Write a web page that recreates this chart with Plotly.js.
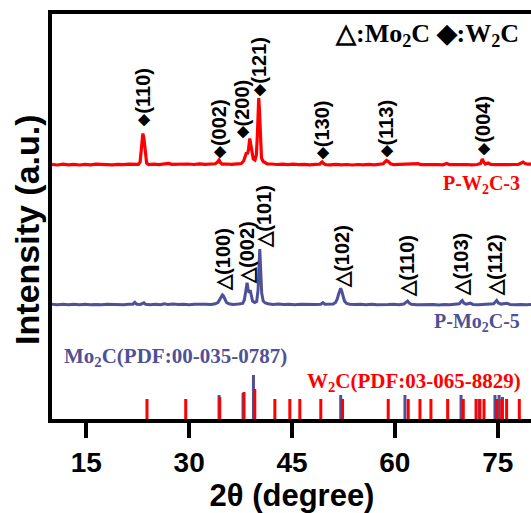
<!DOCTYPE html>
<html>
<head>
<meta charset="utf-8">
<script src="https://cdn.plot.ly/plotly-3.0.1.min.js"></script>
<style>
html, body { margin: 0; padding: 0; overflow: hidden; background: #fff; }
#chart { width: 540px; height: 513px; }
</style>
</head>
<body>
<div id="chart"></div>
<script>
// ---- Data ----
// P-W2C-3 pattern (2theta, intensity a.u.)
const redTheta = [10,10.8,11.6,12.4,13.2,14,14.8,15.6,16.4,17.2,18,18.8,19.6,20.4,21.2,22,22.6,22.85,23.0,23.1,23.25,23.4,23.5,23.62,23.8,24.1,24.8,25.6,26.4,27.0,27.5,28.3,29.1,29.9,30.7,31.5,32.3,33.1,33.8,34.15,34.36,34.55,34.8,35.5,36.2,37.0,37.6,37.95,38.15,38.36,38.5,38.65,38.84,39.0,39.15,39.35,39.6,39.8,39.95,40.05,40.15,40.25,40.38,40.55,40.8,41.05,41.4,42.0,42.8,43.6,44.4,45.2,46.0,46.8,47.6,48.4,49.05,49.25,49.4,49.6,49.9,50.6,51.4,52.2,53.0,53.8,54.6,55.4,56.2,57.0,57.8,58.3,58.55,58.8,59.05,59.4,59.8,60.6,61.4,62.2,63.0,63.4,63.8,64.6,65.4,66.2,67.0,67.55,68.0,68.8,69.6,70.4,71.2,72.0,72.5,72.75,72.95,73.2,73.6,74.0,74.8,75.6,76.4,77.2,78.0,78.45,78.7,79.0,79.4,80];
const redInt = [0.6,0,0.8,0.2,0.6,0,0.7,0.2,0.8,0.3,0.6,0.1,0.7,0.3,0.8,0.4,0.6,3,18,26,31.5,27,20,8,2,0.5,0.8,0.3,0.9,1.6,0.6,0.9,0.4,1.0,0.5,1.1,0.6,1.0,1.2,3,5,2.5,0.8,1.0,0.6,1.2,1.5,4,9,12.5,11,15,26.5,20,10,6,5,10,30,55,67,55,22,7,3.5,2.5,1.2,1.0,0.5,0.9,0.4,0.8,0.3,0.7,0.2,0.6,0.8,2.2,3,1.5,0.3,0.2,0.6,0.1,0.5,0,0.5,0.1,0.6,0.2,0.5,1.2,3,4.5,3.5,1.2,0.3,0.5,0.1,0.5,0.4,1.3,0.3,0.5,0.1,0.5,0.2,1.5,0.3,0.5,0.1,0.5,0.2,0.5,1.5,6,3,1,2,0.5,0.3,0.6,0.2,0.5,0.6,2,3,1.5,0.8,1];

// P-Mo2C-5 pattern
const blueTheta = [10,10.8,11.6,12.4,13.2,14,14.8,15.6,16.4,17.2,18,18.8,19.6,20.4,21.2,21.8,22.07,22.35,22.9,23.2,23.4,23.65,24.3,25.1,25.8,26.4,26.9,27.7,28.4,29.2,30.0,30.8,31.6,32.4,33.2,33.8,34.2,34.5,34.7,34.85,35.0,35.2,35.45,35.8,36.4,37.2,37.8,38.05,38.25,38.45,38.6,38.75,38.9,39.05,39.25,39.55,39.85,40.05,40.18,40.3,40.42,40.58,40.8,41.1,41.5,42.2,43.0,43.8,44.6,45.4,46.2,47.0,47.8,48.6,49.2,49.5,49.8,50.5,51.0,51.35,51.6,51.8,51.95,52.1,52.25,52.45,52.65,52.95,53.4,54.2,55.0,55.8,56.6,57.4,58.2,59.0,59.8,60.6,61.3,61.65,61.86,62.1,62.4,63.2,64.0,64.8,65.6,66.4,67.2,68.0,68.8,69.4,69.65,69.83,70.05,70.4,71.0,71.4,72.2,73.0,73.8,74.4,74.65,74.85,75.1,75.5,76.3,76.8,77.6,78.4,79.2,80];
const blueInt = [0.7,0.3,0.8,0.2,0.7,0.3,0.8,0.2,0.6,0.2,0.7,0.3,0.6,0.2,0.7,0.8,2.6,0.8,0.6,1.2,2.2,0.7,0.3,0.7,0.3,1.2,0.4,1.1,0.4,0.8,0.3,0.7,0.4,0.8,0.6,1.2,2.5,5.5,8.5,10,9,6,2.5,1.2,0.6,0.9,1.5,5,15,22.3,16,12,15,10,4,2.5,3.5,15,40,56,38,12,4,2,1.2,0.6,0.9,0.4,0.8,0.3,0.7,0.4,0.7,0.5,0.8,2.3,0.7,0.6,0.9,2.5,6,11,15,16.7,14,9,4,1.5,0.7,0.4,0.8,0.3,0.7,0.3,0.7,0.4,0.7,0.3,0.9,2.5,4,2,0.7,0.3,0.6,0.2,0.5,0.1,0.6,0.2,0.6,1.2,3.5,4.5,2,0.8,1.8,0.6,0.3,0.5,0.3,1.2,3,4.5,2,0.9,1.8,0.5,0.2,0.6,0.2,0.5];

// Reference patterns (stick positions and relative heights)
const w2cRefTheta = [23.85,29.5,34.46,38.0,39.57,42.5,44.68,46.14,49.2,52.37,59.03,61.95,63.66,65.26,67.7,69.98,71.84,72.4,73.0,74.85,75.58,76.3,78.15];
const w2cRefInt   = [20,20,22,27,30,20,20,20,20,20,20,20,20,20,20,20,20,20,20,20,20,20,20];
const mo2cRefTheta = [34.36,37.86,39.38,52.1,61.47,69.65,72.3,74.6,75.2,75.7];
const mo2cRefInt   = [24,26,44,24,24,24,20,24,24,22];

// Peak labels
const w2cHkl = ['(110)','(002)','(200)','(121)','(130)','(113)','(004)'];
const w2cHklTheta = [23.15,34.36,37.77,40.15,49.4,58.7,72.8];
const w2cHklLevel = [36,4,24,66,3,5,7];
const mo2cHkl = ['(100)','(002)','(101)','(102)','(110)','(103)','(112)'];
const mo2cHklTheta = [34.85,38.36,40.8,52.2,61.72,69.5,74.6];
const mo2cHklLevel = [12,19,55,15,6,7,7];

const xTicks = [15,30,45,60,75];
const xRange = [10,80];

// ---- Styling ----
const RED = '#FF0000';
const BLUE = '#4F5196';
const RED_OFFSET = 254;   // vertical stacking of the patterns
const BLUE_OFFSET = 114;
const SANS = 'Liberation Sans, Arial, sans-serif';
const SERIF = 'Liberation Serif, Times New Roman, serif';

function shifted(arr, off) { return arr.map(v => v + off); }
function sticks(xs, hs) {
  const x = [], y = [];
  xs.forEach((t, i) => { x.push(t, t, null); y.push(0, hs[i], null); });
  return {x, y};
}

const moSt = sticks(mo2cRefTheta, mo2cRefInt);
const wSt = sticks(w2cRefTheta, w2cRefInt);

const traces = [
  {x: redTheta, y: shifted(redInt, RED_OFFSET), mode: 'lines', line: {color: RED, width: 3.2}, hoverinfo: 'skip'},
  {x: blueTheta, y: shifted(blueInt, BLUE_OFFSET), mode: 'lines', line: {color: BLUE, width: 3}, hoverinfo: 'skip'},
  {x: moSt.x, y: moSt.y, mode: 'lines', line: {color: BLUE, width: 3}, hoverinfo: 'skip'},
  {x: wSt.x, y: wSt.y, mode: 'lines', line: {color: RED, width: 3}, hoverinfo: 'skip'}
];

const annotations = [];
w2cHkl.forEach((h, i) => annotations.push({
  x: w2cHklTheta[i], y: RED_OFFSET + w2cHklLevel[i], xref: 'x', yref: 'y',
  text: '<span style="font-size:15px;baseline-shift:2px">◆</span><b>' + h + '</b>', showarrow: false, textangle: -90,
  xanchor: 'center', yanchor: 'bottom',
  font: {family: SANS, size: 20, color: '#000', weight: 'bold'}
}));
mo2cHkl.forEach((h, i) => annotations.push({
  x: mo2cHklTheta[i], y: BLUE_OFFSET + mo2cHklLevel[i], xref: 'x', yref: 'y',
  text: '△<b>' + h + '</b>', showarrow: false, textangle: -90, xanchor: 'center', yanchor: 'bottom',
  font: {family: SANS, size: 20, color: '#000', weight: 'bold'}
}));
const txt = (text, x, y, xa, color, size) => ({
  text: '<b>' + text + '</b>', x, y, xref: 'paper', yref: 'paper', xanchor: xa, yanchor: 'middle', showarrow: false,
  font: {family: SERIF, size, color, weight: 'bold'}
});
annotations.push(txt('△:Mo<sub>2</sub>C ◆:W<sub>2</sub>C', 0.978, 0.948, 'right', '#000', 26));
annotations.push(txt('P-W<sub>2</sub>C-3', 0.979, 0.578, 'right', RED, 20));
annotations.push(txt('P-Mo<sub>2</sub>C-5', 0.979, 0.2395, 'right', BLUE, 20));
annotations.push(txt('Mo<sub>2</sub>C(PDF:00-035-0787)', 0.02, 0.153, 'left', BLUE, 21));
annotations.push(txt('W<sub>2</sub>C(PDF:03-065-8829)', 0.981, 0.0914, 'right', RED, 21));
// y-axis title
annotations.push({
  text: '<b>Intensity (a.u.)</b>', x: -0.052, y: 0.467, xref: 'paper', yref: 'paper',
  xanchor: 'center', yanchor: 'middle', textangle: -90, showarrow: false,
  font: {family: SANS, size: 34, color: '#000', weight: 'bold'}
});

const layout = {
  width: 540, height: 513,
  margin: {l: 52, r: 8, t: 14, b: 94},
  paper_bgcolor: '#fff', plot_bgcolor: '#fff',
  showlegend: false,
  xaxis: {
    range: xRange, tickvals: xTicks, ticktext: xTicks.map(String),
    ticks: 'outside', ticklen: 15, tickwidth: 4, tickcolor: '#000',
    showline: true, linewidth: 4, linecolor: '#000', mirror: true,
    showgrid: false, zeroline: false,
    tickfont: {family: SANS, size: 28, color: '#000', weight: 'bold'},
    title: {text: '2θ (degree)', font: {family: SANS, size: 31, color: '#000', weight: 'bold'}, standoff: 6}
  },
  yaxis: {
    range: [0, 405], showticklabels: false, ticks: '',
    showline: true, linewidth: 4, linecolor: '#000', mirror: true,
    showgrid: false, zeroline: false
  },
  annotations
};

Plotly.newPlot('chart', traces, layout, {staticPlot: true, displayModeBar: false});
</script>
</body>
</html>
